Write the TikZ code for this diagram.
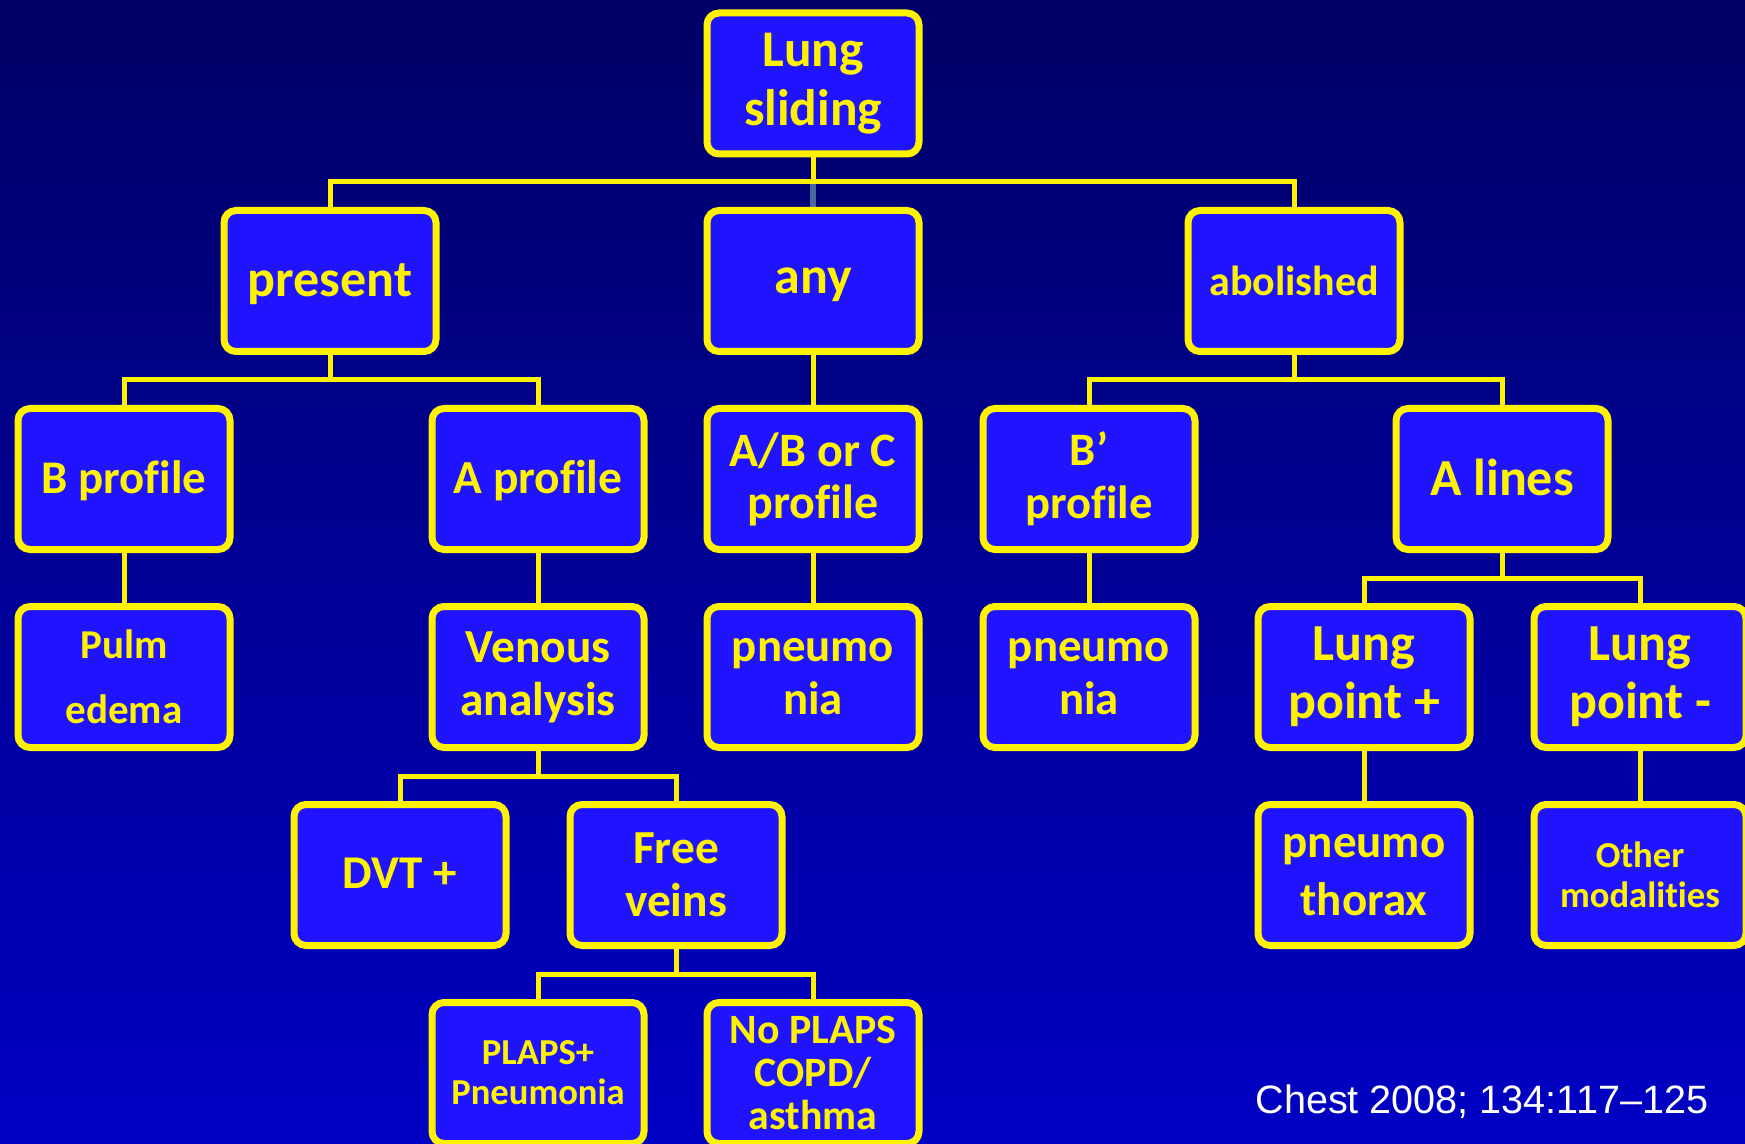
\documentclass[tikz,border=0pt]{standalone}
\usepackage{fontspec}
\setmainfont{Carlito}[RawFeature={-liga;-clig;-calt;-dlig}]
\newfontfamily\citefont{Liberation Sans}
\usetikzlibrary{calc}
\definecolor{boxblue}{RGB}{32,20,255}
\definecolor{bgtop}{RGB}{0,0,102}
\definecolor{bgbot}{RGB}{0,0,196}
\definecolor{steel}{RGB}{74,104,158}
\newcommand{\fs}[2]{\fontsize{#1}{#2}\selectfont\bfseries}
\pgfdeclarelayer{bglayer}
\pgfdeclarelayer{connlayer}
\pgfsetlayers{bglayer,connlayer,main}
\tikzset{
  box/.style={draw=yellow, line width=3.5pt, fill=boxblue, rounded corners=6pt,
    minimum width=106pt, minimum height=70.5pt, inner sep=0pt, outer sep=0pt,
    text=yellow, align=center},
  conn/.style={draw=yellow, line width=2.5pt},
  conngray/.style={draw=steel, line width=2.8pt}
}
\begin{document}
\begin{tikzpicture}[x=0.5pt,y=-0.5pt]
\useasboundingbox (0,0) rectangle (1745,1144);
\begin{pgfonlayer}{bglayer}
\shade[top color=bgtop, bottom color=bgbot] (0,0) rectangle (1745,1144);
\end{pgfonlayer}
\clip (0,0) rectangle (1745,1144);
% row 1
\node[box, font={\fs{25.7}{29.5}}] (ls) at (813,83.5) {Lung\\sliding};
% row 2
\node[box, font={\fs{26}{30}}, text depth=0.5pt] (present) at (330,281) {present};
\node[box, font={\fs{26}{30}}, text depth=0pt] (any) at (813,281) {any};
\node[box, font={\fs{21}{25}}] (abol) at (1294,281) {abolished};
% row 3
\node[box, font={\fs{23.4}{27}}, text depth=1.8pt] (bprof) at (124,479) {B profile};
\node[box, font={\fs{23.7}{27}}, text depth=1.8pt] (aprof) at (538,479) {A profile};
\node[box, font={\fs{24}{26}}] (abc) at (813,479) {A/B or C\\profile};
\node[box, font={\fs{23.3}{26.5}}] (bpprof) at (1089,479) {B’\\profile};
\node[box, font={\fs{26}{30}}, text depth=2pt] (alines) at (1502,479) {A lines};
% row 4
\node[box, font={\fs{20.5}{32.5}}] (pulm) at (124,677) {Pulm\\edema};
\node[box, font={\fs{23.7}{26.5}}] (venous) at (538,677) {Venous\\analysis};
\node[box, font={\fs{23.4}{26.5}}] (pna1) at (813,677) {pneumo\\nia};
\node[box, font={\fs{23.4}{26.5}}] (pna2) at (1089,677) {pneumo\\nia};
\node[box, font={\fs{26}{29}}] (lpplus) at (1364,677) {Lung\\point +};
\node[box, font={\fs{26}{29}}] (lpminus) at (1640,677) {Lung\\point -};
% row 5
\node[box, font={\fs{23.5}{27}}, text depth=2pt] (dvt) at (400,875) {DVT +};
\node[box, font={\fs{23.7}{26.5}}] (free) at (676,875) {Free\\veins};
\node[box, font={\fs{23.5}{29}}] (ptx) at (1364,875) {pneumo\\thorax};
\node[box, font={\fs{18.3}{20}}] (other) at (1640,875) {Other\\modalities};
% row 6
\node[box, font={\fs{18.3}{20}}] (plaps) at (538,1073) {PLAPS+\\Pneumonia};
\node[box, font={\fs{20.9}{21.5}}] (noplaps) at (813,1073) {No PLAPS\\COPD/\\asthma};
% citation
\node[anchor=base west, text=white, inner sep=0pt, font={\citefont\fontsize{19.8}{24}\selectfont}] (cite) at (1255,1113) {Chest 2008; 134:117–125};
% connectors
\begin{pgfonlayer}{connlayer}
\draw[conngray] (any.north) -- ++(0,-29.5);
\draw[conn] (ls.south) -- ++(0,28.25);
\draw[conn] (present.north) -- ++(0,-29) -| (abol.north);
\draw[conn] (present.south) -- ++(0,28.5);
\draw[conn] (bprof.north) -- ++(0,-28.5) -| (aprof.north);
\draw[conn] (any.south) -- (abc.north);
\draw[conn] (abol.south) -- ++(0,28.5);
\draw[conn] (bpprof.north) -- ++(0,-28.5) -| (alines.north);
\draw[conn] (bprof.south) -- (pulm.north);
\draw[conn] (aprof.south) -- (venous.north);
\draw[conn] (abc.south) -- (pna1.north);
\draw[conn] (bpprof.south) -- (pna2.north);
\draw[conn] (alines.south) -- ++(0,28.5);
\draw[conn] (lpplus.north) -- ++(0,-28.5) -| (lpminus.north);
\draw[conn] (lpplus.south) -- (ptx.north);
\draw[conn] (lpminus.south) -- (other.north);
\draw[conn] (venous.south) -- ++(0,28.5);
\draw[conn] (dvt.north) -- ++(0,-28.5) -| (free.north);
\draw[conn] (free.south) -- ++(0,28.5);
\draw[conn] (plaps.north) -- ++(0,-28.5) -| (noplaps.north);
\end{pgfonlayer}
\end{tikzpicture}
\end{document}
